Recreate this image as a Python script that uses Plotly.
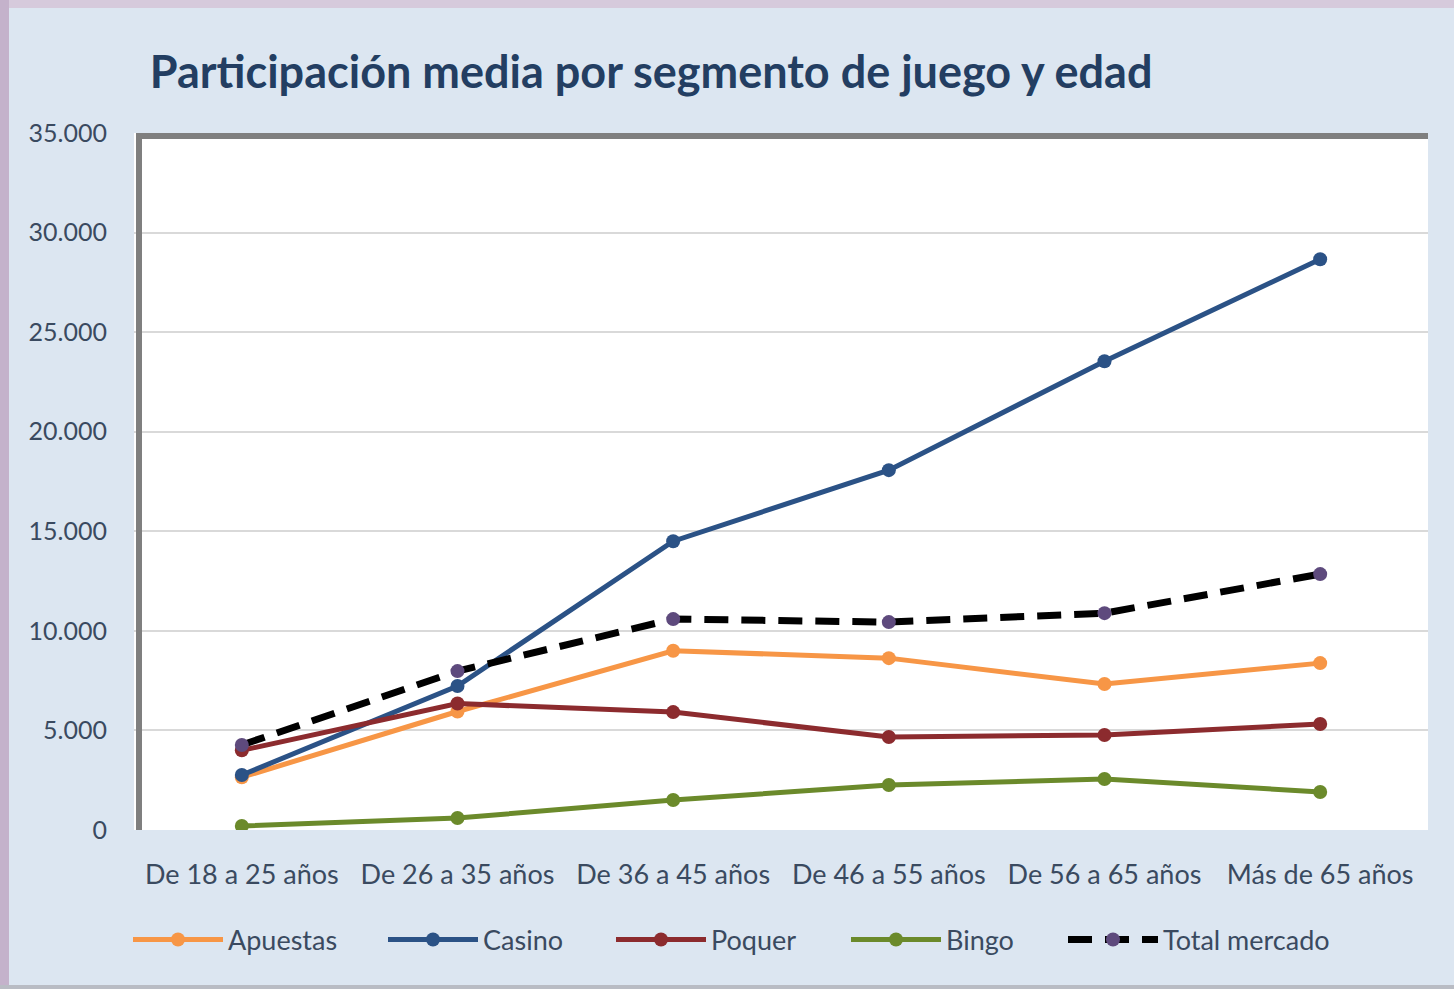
import plotly.graph_objects as go

categories = ["De 18 a 25 años", "De 26 a 35 años", "De 36 a 45 años",
              "De 46 a 55 años", "De 56 a 65 años", "Más de 65 años"]
apuestas = [2650, 5950, 9000, 8630, 7330, 8380]
casino = [2760, 7230, 14500, 18070, 23540, 28660]
poquer = [4000, 6350, 5920, 4670, 4770, 5320]
bingo = [200, 600, 1510, 2260, 2560, 1910]
total = [4270, 7980, 10590, 10440, 10890, 12850]
y_ticks = [0, 5000, 10000, 15000, 20000, 25000, 30000, 35000]
y_tick_labels = ["0", "5.000", "10.000", "15.000", "20.000", "25.000", "30.000", "35.000"]

W, H = 1454, 989
ML, MR, MT, MB = 134, 26, 133, 159
PW, PH = W - ML - MR, H - MT - MB

series = [
    ("Apuestas", apuestas, "#f79646", "#f79646", "solid", 5, 150),
    ("Casino", casino, "#2b5286", "#2b5286", "solid", 5, 123),
    ("Poquer", poquer, "#8c2b2e", "#8c2b2e", "solid", 5, 130),
    ("Bingo", bingo, "#6b8a2b", "#6b8a2b", "solid", 5, 112),
    ("Total mercado", total, "#000000", "#5e4a7d", "24px,13px", 7, 180),
]

fig = go.Figure()
for name, vals, lc, mc, dash, w, lw in series:
    fig.add_trace(go.Scatter(
        x=categories, y=vals, name=name, mode="lines+markers",
        line=dict(color=lc, width=w, dash=dash),
        marker=dict(color=mc, size=14),
        legendwidth=lw,
    ))

def px_x(px):
    return (px - ML) / PW

def px_y(py):
    return (H - MB - py) / PH

fig.update_layout(
    width=W, height=H,
    paper_bgcolor="#dce6f1",
    plot_bgcolor="#ffffff",
    margin=dict(l=ML, r=MR, t=MT, b=MB, autoexpand=False),
    title=dict(text="<b>Participación media por segmento de juego y edad</b>",
               x=0.103, xanchor="left", y=1 - 72 / H, yanchor="middle",
               font=dict(family="Lato", size=45, color="#233e62")),
    font=dict(family="Lato", color="#3a4a60"),
    showlegend=True,
    legend=dict(orientation="h", x=128 / W, xanchor="left", y=1 - 940 / H, yanchor="middle",
                xref="container", yref="container",
                font=dict(size=27, color="#3a4a60"), itemwidth=90,
                bgcolor="rgba(0,0,0,0)"),
    xaxis=dict(type="category", range=[-0.5, 5.5], showgrid=False, zeroline=False,
               tickfont=dict(size=27, color="#3a4a60"), ticks="", ticklabelstandoff=26,
               showline=False, fixedrange=True),
    yaxis=dict(range=[0, 35000], tickvals=y_ticks, ticktext=y_tick_labels,
               showgrid=True, gridcolor="#d9d9d9", gridwidth=2, zeroline=False,
               tickfont=dict(size=25, color="#3a4a60"), ticks="", ticklabelstandoff=26,
               showline=False, fixedrange=True),
    shapes=[
        # outer decorative strips
        dict(type="rect", xref="paper", yref="paper", x0=px_x(0), x1=px_x(9),
             y0=px_y(H), y1=px_y(0), line=dict(width=0), fillcolor="#c4b2cb", layer="below"),
        dict(type="rect", xref="paper", yref="paper", x0=px_x(9), x1=px_x(W),
             y0=px_y(8), y1=px_y(0), line=dict(width=0), fillcolor="#d6cadc", layer="below"),
        dict(type="rect", xref="paper", yref="paper", x0=px_x(0), x1=px_x(W),
             y0=px_y(H), y1=px_y(H - 4), line=dict(width=0), fillcolor="#b9bcc4", layer="below"),
        # plot frame shadows (top and left)
        dict(type="line", xref="paper", yref="paper", x0=px_x(136), x1=1, y0=px_y(136), y1=px_y(136),
             line=dict(color="#7f7f7f", width=6)),
        dict(type="line", xref="paper", yref="paper", x0=px_x(139), x1=px_x(139), y0=0, y1=px_y(133),
             line=dict(color="#7f7f7f", width=6)),
    ],
)

fig.write_html("out.html", config={"displayModeBar": False},
               post_script="document.body.style.margin='0px';")
